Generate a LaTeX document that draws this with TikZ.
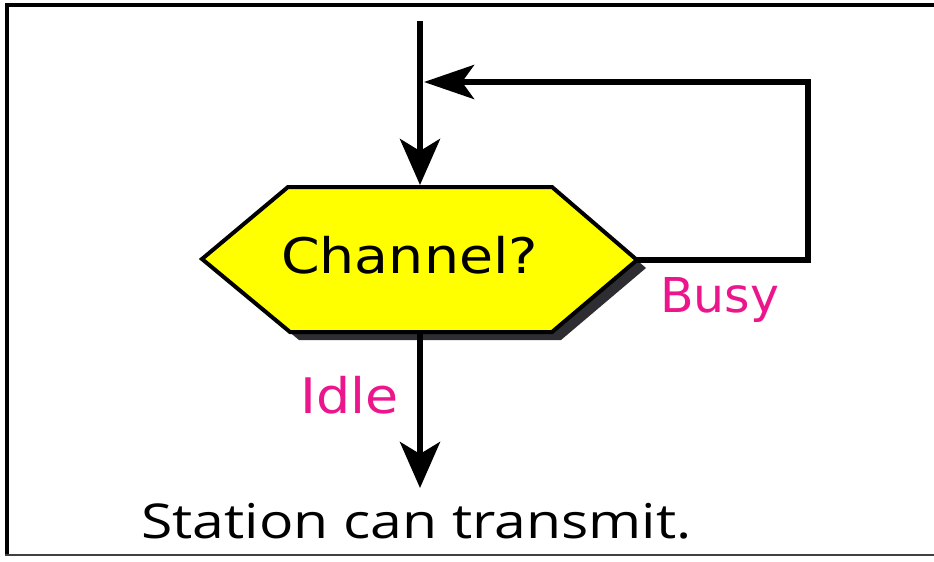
\documentclass[tikz,border=0pt]{standalone}
\usepackage{fontspec}
\setmainfont{DejaVu Sans}
\newfontfamily\chfont[FakeStretch=1.13]{DejaVu Sans}
\newfontfamily\busyfont[FakeStretch=1.02]{DejaVu Sans}
\newfontfamily\idlefont[FakeStretch=1.1]{DejaVu Sans}
\newfontfamily\stfont[FakeStretch=1.19]{Open Sans}
\usetikzlibrary{arrows.meta}
\definecolor{hexyellow}{RGB}{255,255,0}
\definecolor{lblpink}{RGB}{236,22,140}
\definecolor{shadowgray}{RGB}{45,45,50}
\begin{document}
\begin{tikzpicture}[x=1pt,y=-1pt,
  frame/.style={line width=4pt, draw=black},
  flow/.style={line width=6pt, draw=black, line join=miter},
  tipdown/.style={-{Stealth[length=46pt,width=40pt,inset=12pt]}},
  tipleft/.style={-{Stealth[length=50pt,width=34pt,inset=12pt]}},
  hexbox/.style={line width=4pt, draw=black, fill=hexyellow, line join=miter},
  hexshadow/.style={fill=shadowgray},
  lbl/.style={text=lblpink, inner sep=0pt, anchor=base west},
]
\useasboundingbox (0,0) rectangle (934,562);
% frame
\draw[frame] (7,555) -- (7,5) -- (934,5);
\draw[line width=2.5pt, draw=black!75] (5,555) -- (934,555);
% coordinates
\coordinate (start) at (420,21);
\coordinate (hexL) at (202,259);
\coordinate (hexTL) at (288,187);
\coordinate (hexTR) at (552,187);
\coordinate (hexR) at (637,260);
\coordinate (hexBR) at (552,332);
\coordinate (hexBL) at (290,332);
\coordinate (hexT) at (420,185);
\coordinate (hexB) at (420,332);
\coordinate (loopBR) at (808,260);
\coordinate (loopTR) at (808,82);
\coordinate (loopEnd) at (424,82);
\coordinate (outEnd) at (420,488);
% shadow and hexagon
\fill[hexshadow] ([shift={(9,8)}]hexL) -- ([shift={(9,8)}]hexTL) -- ([shift={(9,8)}]hexTR) -- ([shift={(9,8)}]hexR) -- ([shift={(9,8)}]hexBR) -- ([shift={(9,8)}]hexBL) -- cycle;
\filldraw[hexbox] (hexL) -- (hexTL) -- (hexTR) -- (hexR) -- (hexBR) -- (hexBL) -- cycle;
\node[inner sep=0pt, anchor=base west, font=\chfont\fontsize{49}{58}\selectfont] (ch) at (281,273) {Channel?};
% connectors
\draw[flow, tipdown] (start) -- (hexT);
\draw[flow, tipleft] (hexR) -- (loopBR) -- (loopTR) -- (loopEnd);
\draw[flow, tipdown] (hexB) -- (outEnd);
% labels
\node[lbl, font=\busyfont\fontsize{48}{56}\selectfont] (busy) at (660,312) {Busy};
\node[lbl, font=\idlefont\fontsize{49}{56}\selectfont] (idle) at (300,413) {Idle};
\node[inner sep=0pt, anchor=base west, font=\stfont\fontsize{48}{56}\selectfont] (st) at (141,538) {Station can transmit.};
\end{tikzpicture}
\end{document}
